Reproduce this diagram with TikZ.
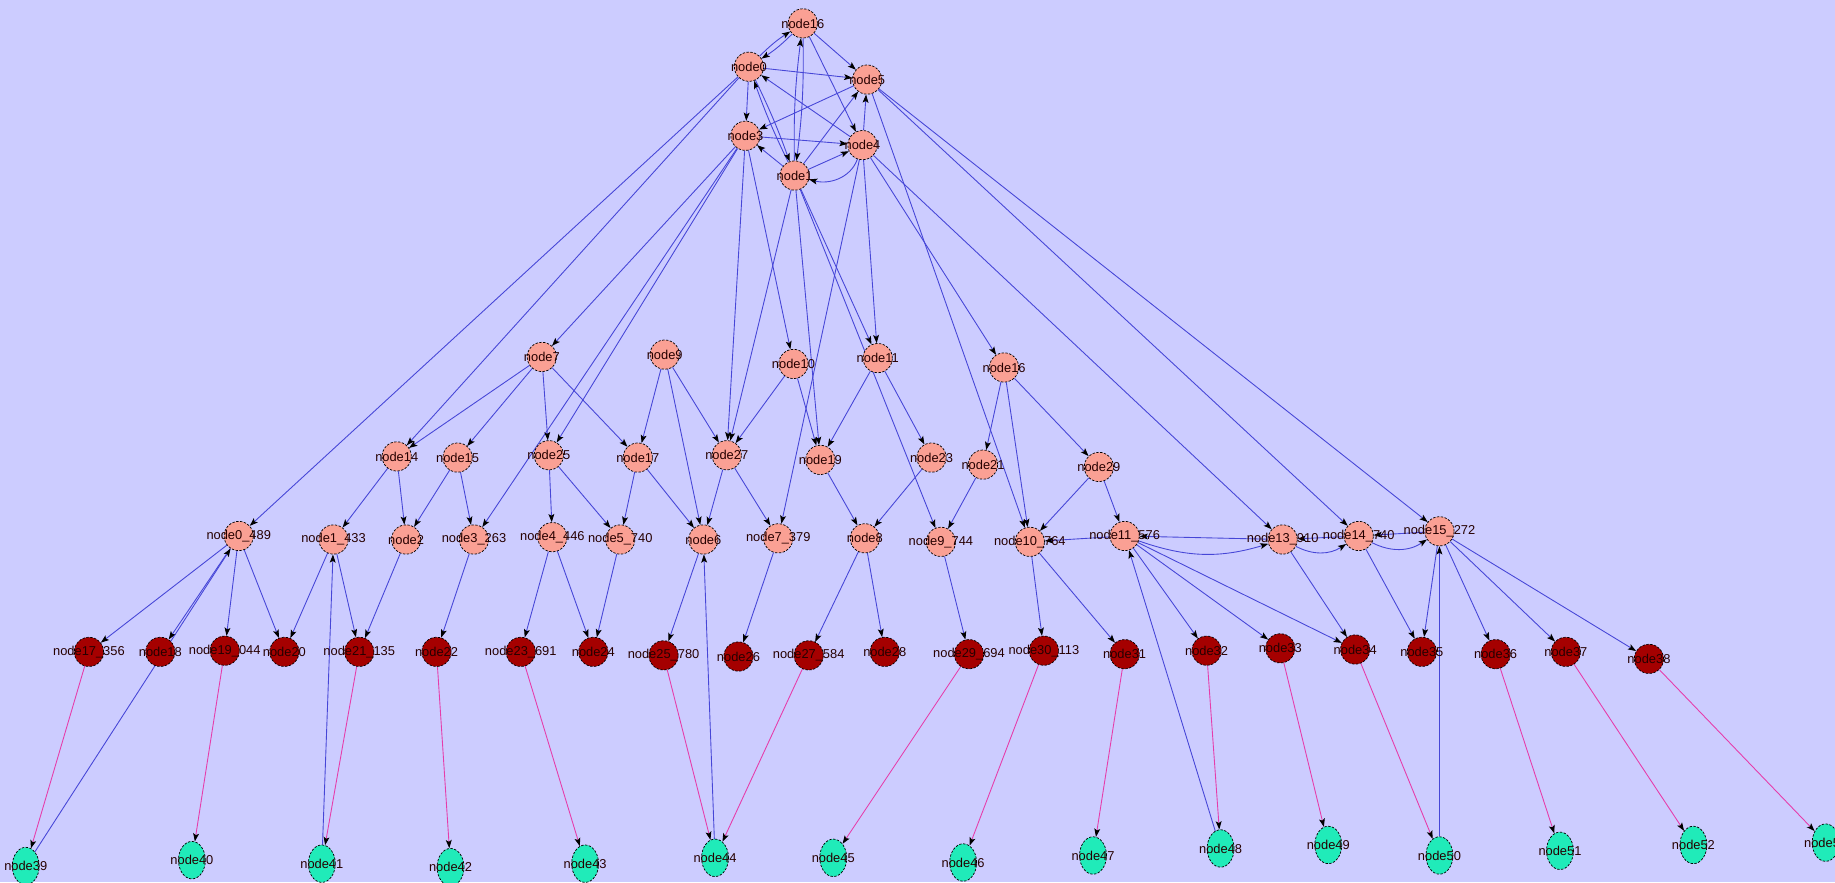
\documentclass[tikz,border=0pt]{standalone}
\usepackage{fontspec}
\usetikzlibrary{arrows.meta,shapes.geometric}
\newfontfamily\lblfont{Liberation Sans}
\definecolor{bgc}{RGB}{204,204,255}
\definecolor{pinkc}{RGB}{250,160,148}
\definecolor{redc}{RGB}{165,0,0}
\definecolor{greenc}{RGB}{32,235,185}
\definecolor{edgec}{RGB}{70,70,215}
\definecolor{pinkedge}{RGB}{230,60,170}
\pgfdeclarelayer{edgelayer}
\pgfsetlayers{edgelayer,main}
\tikzset{
  vbase/.style={circle, minimum size=25pt, inner sep=0pt, draw=black,
    line width=0.6pt, dash pattern=on 2pt off 1.3pt},
  pk/.style={vbase, fill=pinkc},
  rd/.style={vbase, fill=redc},
  gr/.style={ellipse, minimum width=23pt, minimum height=32pt, inner sep=0pt,
    draw=black, line width=0.6pt, dash pattern=on 2pt off 1.3pt, fill=greenc},
  every label/.style={font=\lblfont\fontsize{11}{13}\selectfont, text=black!85!red, inner sep=0pt},
  tip/.style={-{Stealth[length=7pt,width=5pt,inset=1.5pt,color=black]}},
  e/.style={draw=edgec, line width=0.75pt, tip},
  pe/.style={draw=pinkedge, line width=0.75pt, tip},
}
\begin{document}
\begin{tikzpicture}[x=1pt,y=-1pt]
\useasboundingbox (0,0) rectangle (1568,754);

% top cluster
\node[pk,label={center:node16}] (T)  at (686,20) {};
\node[pk,label={center:node0}]  (n0) at (640,57) {};
\node[pk,label={center:node5}]  (n5) at (741,68) {};
\node[pk,label={center:node3}]  (n3) at (637,116) {};
\node[pk,label={center:node4}]  (n4) at (737,124) {};
\node[pk,label={center:node1}]  (n1) at (679,150) {};

% middle row
\node[pk,label={center:node7}]  (n7)  at (463,305) {};
\node[pk,label={center:node9}]  (n9)  at (568,303) {};
\node[pk,label={center:node10}] (n10) at (678,311) {};
\node[pk,label={center:node11}] (n11) at (750,306) {};
\node[pk,label={center:node16}] (n16) at (858,314) {};

% second row
\node[pk,label={center:node14}] (n14) at (339,390) {};
\node[pk,label={center:node15}] (n15) at (391,391) {};
\node[pk,label={center:node25}] (n25) at (469,389) {};
\node[pk,label={center:node17}] (n17) at (545,391) {};
\node[pk,label={center:node27}] (n27) at (621,389) {};
\node[pk,label={center:node19}] (n19) at (701,393) {};
\node[pk,label={center:node23}] (n23) at (796,391) {};
\node[pk,label={center:node21}] (n21) at (840,397) {};
\node[pk,label={center:node29}] (n29) at (939,399) {};

% third row
\node[pk,label={center:node0\_489}]  (r0)  at (204,458) {};
\node[pk,label={center:node1\_433}]  (r1)  at (285,461) {};
\node[pk,label={center:node2}]       (r2)  at (347,461) {};
\node[pk,label={center:node3\_263}]  (r3)  at (405,461) {};
\node[pk,label={center:node4\_446}]  (r4)  at (472,459) {};
\node[pk,label={center:node5\_740}]  (r5)  at (530,461) {};
\node[pk,label={center:node6}]       (r6)  at (601,461) {};
\node[pk,label={center:node7\_379}]  (r7)  at (665,460) {};
\node[pk,label={center:node8}]       (r8)  at (739,460) {};
\node[pk,label={center:node9\_744}]  (r9)  at (804,463) {};
\node[pk,label={center:node10\_764}] (r10) at (880,463) {};
\node[pk,label={center:node11\_576}] (r11) at (961,458) {};
\node[pk,label={center:node13\_910}] (r13) at (1096,461) {};
\node[pk,label={center:node14\_740}] (r14) at (1161,458) {};
\node[pk,label={center:node15\_272}] (r15) at (1230,454) {};

% dark red row
\node[rd,label={center:node17\_356}] (d17) at (76,557) {};
\node[rd,label={center:node18}]      (d18) at (137,557) {};
\node[rd,label={center:node19\_044}] (d19) at (192,556) {};
\node[rd,label={center:node20}]      (d20) at (243,557) {};
\node[rd,label={center:node21\_135}] (d21) at (307,557) {};
\node[rd,label={center:node22}]      (d22) at (373,557) {};
\node[rd,label={center:node23\_691}] (d23) at (445,557) {};
\node[rd,label={center:node24}]      (d24) at (507,557) {};
\node[rd,label={center:node25\_780}] (d25) at (567,560) {};
\node[rd,label={center:node26}]      (d26) at (631,561) {};
\node[rd,label={center:node27\_584}] (d27) at (691,560) {};
\node[rd,label={center:node28}]      (d28) at (756,557) {};
\node[rd,label={center:node29\_694}] (d29) at (828,559) {};
\node[rd,label={center:node30\_113}] (d30) at (892,556) {};
\node[rd,label={center:node31}]      (d31) at (961,559) {};
\node[rd,label={center:node32}]      (d32) at (1031,556) {};
\node[rd,label={center:node33}]      (d33) at (1094,554) {};
\node[rd,label={center:node34}]      (d34) at (1158,555) {};
\node[rd,label={center:node35}]      (d35) at (1215,557) {};
\node[rd,label={center:node36}]      (d36) at (1278,559) {};
\node[rd,label={center:node37}]      (d37) at (1338,557) {};
\node[rd,label={center:node38}]      (d38) at (1409,563) {};

% green row
\node[gr,label={center:node39}] (g39) at (22,740) {};
\node[gr,label={center:node40}] (g40) at (164,735) {};
\node[gr,label={center:node41}] (g41) at (275,738) {};
\node[gr,label={center:node42}] (g42) at (385,741) {};
\node[gr,label={center:node43}] (g43) at (500,738) {};
\node[gr,label={center:node44}] (g44) at (611,733) {};
\node[gr,label={center:node45}] (g45) at (712,733) {};
\node[gr,label={center:node46}] (g46) at (823,737) {};
\node[gr,label={center:node47}] (g47) at (934,731) {};
\node[gr,label={center:node48}] (g48) at (1043,725) {};
\node[gr,label={center:node49}] (g49) at (1135,722) {};
\node[gr,label={center:node50}] (g50) at (1230,731) {};
\node[gr,label={center:node51}] (g51) at (1333,727) {};
\node[gr,label={center:node52}] (g52) at (1447,722) {};
\node[gr,label={center:node53}] (g53) at (1560,720) {};

\begin{pgfonlayer}{edgelayer}
\fill[bgc] (0,0) rectangle (1568,754);

% top cluster
\draw[e] (n0) to[bend left=6] (T);
\draw[e] (T) to[bend left=6] (n0);
\draw[e] (T) -- (n5);
\draw[e] (T) -- (n4);
\draw[e] (T) to[bend left=4] (n1);
\draw[e] (n1) to[bend left=4] (T);
\draw[e] (n0) -- (n5);
\draw[e] (n0) -- (n3);
\draw[e] (n4) -- (n0);
\draw[e] (n1) to[bend left=3] (n0);
\draw[e] (n0) to[bend left=3] (n1);
\draw[e] (n5) -- (n3);
\draw[e] (n3) -- (n4);
\draw[e] (n1) -- (n3);
\draw[e] (n1) -- (n5);
\draw[e] (n4) -- (n5);
\draw[e] (n1) -- (n4);
\draw[e] (n4) to[out=-110,in=-15] (n1);

% long edges from the top cluster
\draw[e] (n0) -- (r0);
\draw[e] (n0) -- (n14);
\draw[e] (n3) -- (n7);
\draw[e] (n3) -- (n25);
\draw[e] (n3) -- (r3);
\draw[e] (n3) -- (n27);
\draw[e] (n3) -- (n10);
\draw[e] (n1) -- (n27);
\draw[e] (n1) -- (n19);
\draw[e] (n1) -- (n11);
\draw[e] (n1) -- (r9);
\draw[e] (n4) -- (n11);
\draw[e] (n4) -- (r7);
\draw[e] (n4) -- (n16);
\draw[e] (n4) -- (r13);
\draw[e] (n5) -- (r10);
\draw[e] (n5) -- (r14);
\draw[e] (n5) -- (r15);

% middle row
\draw[e] (n7) -- (n14);
\draw[e] (n7) -- (n15);
\draw[e] (n7) -- (n25);
\draw[e] (n7) -- (n17);
\draw[e] (n9) -- (n17);
\draw[e] (n9) -- (r6);
\draw[e] (n9) -- (n27);
\draw[e] (n10) -- (n27);
\draw[e] (n10) -- (n19);
\draw[e] (n11) -- (n19);
\draw[e] (n11) -- (n23);
\draw[e] (n16) -- (n21);
\draw[e] (n16) -- (r10);
\draw[e] (n16) -- (n29);

% second row
\draw[e] (n14) -- (r1);
\draw[e] (n14) -- (r2);
\draw[e] (n15) -- (r2);
\draw[e] (n15) -- (r3);
\draw[e] (n25) -- (r4);
\draw[e] (n25) -- (r5);
\draw[e] (n17) -- (r5);
\draw[e] (n17) -- (r6);
\draw[e] (n27) -- (r6);
\draw[e] (n27) -- (r7);
\draw[e] (n19) -- (r8);
\draw[e] (n23) -- (r8);
\draw[e] (n21) -- (r9);
\draw[e] (n29) -- (r10);
\draw[e] (n29) -- (r11);

% third row, links along the row
\draw[e] (r11) -- (r10);
\draw[e] (r13) -- (r11);
\draw[e] (r14) -- (r13);
\draw[e] (r15) -- (r14);
\draw[e] (r11) to[bend right=18] (r13);
\draw[e] (r13) to[bend right=30] (r14);
\draw[e] (r14) to[bend right=30] (r15);

% third row to dark red row
\draw[e] (r0) -- (d17);
\draw[e] (r0) -- (d18);
\draw[e] (r0) -- (d19);
\draw[e] (r0) -- (d20);
\draw[e] (r1) -- (d20);
\draw[e] (r1) -- (d21);
\draw[e] (r2) -- (d21);
\draw[e] (r3) -- (d22);
\draw[e] (r4) -- (d23);
\draw[e] (r4) -- (d24);
\draw[e] (r5) -- (d24);
\draw[e] (r6) -- (d25);
\draw[e] (r7) -- (d26);
\draw[e] (r8) -- (d27);
\draw[e] (r8) -- (d28);
\draw[e] (r9) -- (d29);
\draw[e] (r10) -- (d30);
\draw[e] (r10) -- (d31);
\draw[e] (r11) -- (d32);
\draw[e] (r11) -- (d33);
\draw[e] (r11) -- (d34);
\draw[e] (r13) -- (d34);
\draw[e] (r14) -- (d35);
\draw[e] (r15) -- (d35);
\draw[e] (r15) -- (d36);
\draw[e] (r15) -- (d37);
\draw[e] (r15) -- (d38);

% green row back to third row
\draw[e] (g39) -- (r0);
\draw[e] (g41) -- (r1);
\draw[e] (g44) -- (r6);
\draw[e] (g48) -- (r11);
\draw[e] (g50) -- (r15);

% dark red row to green row
\draw[pe] (d17) -- (g39);
\draw[pe] (d19) -- (g40);
\draw[pe] (d21) -- (g41);
\draw[pe] (d22) -- (g42);
\draw[pe] (d23) -- (g43);
\draw[pe] (d25) -- (g44);
\draw[pe] (d27) -- (g44);
\draw[pe] (d29) -- (g45);
\draw[pe] (d30) -- (g46);
\draw[pe] (d31) -- (g47);
\draw[pe] (d32) -- (g48);
\draw[pe] (d33) -- (g49);
\draw[pe] (d34) -- (g50);
\draw[pe] (d36) -- (g51);
\draw[pe] (d37) -- (g52);
\draw[pe] (d38) -- (g53);
\end{pgfonlayer}
\end{tikzpicture}
\end{document}
